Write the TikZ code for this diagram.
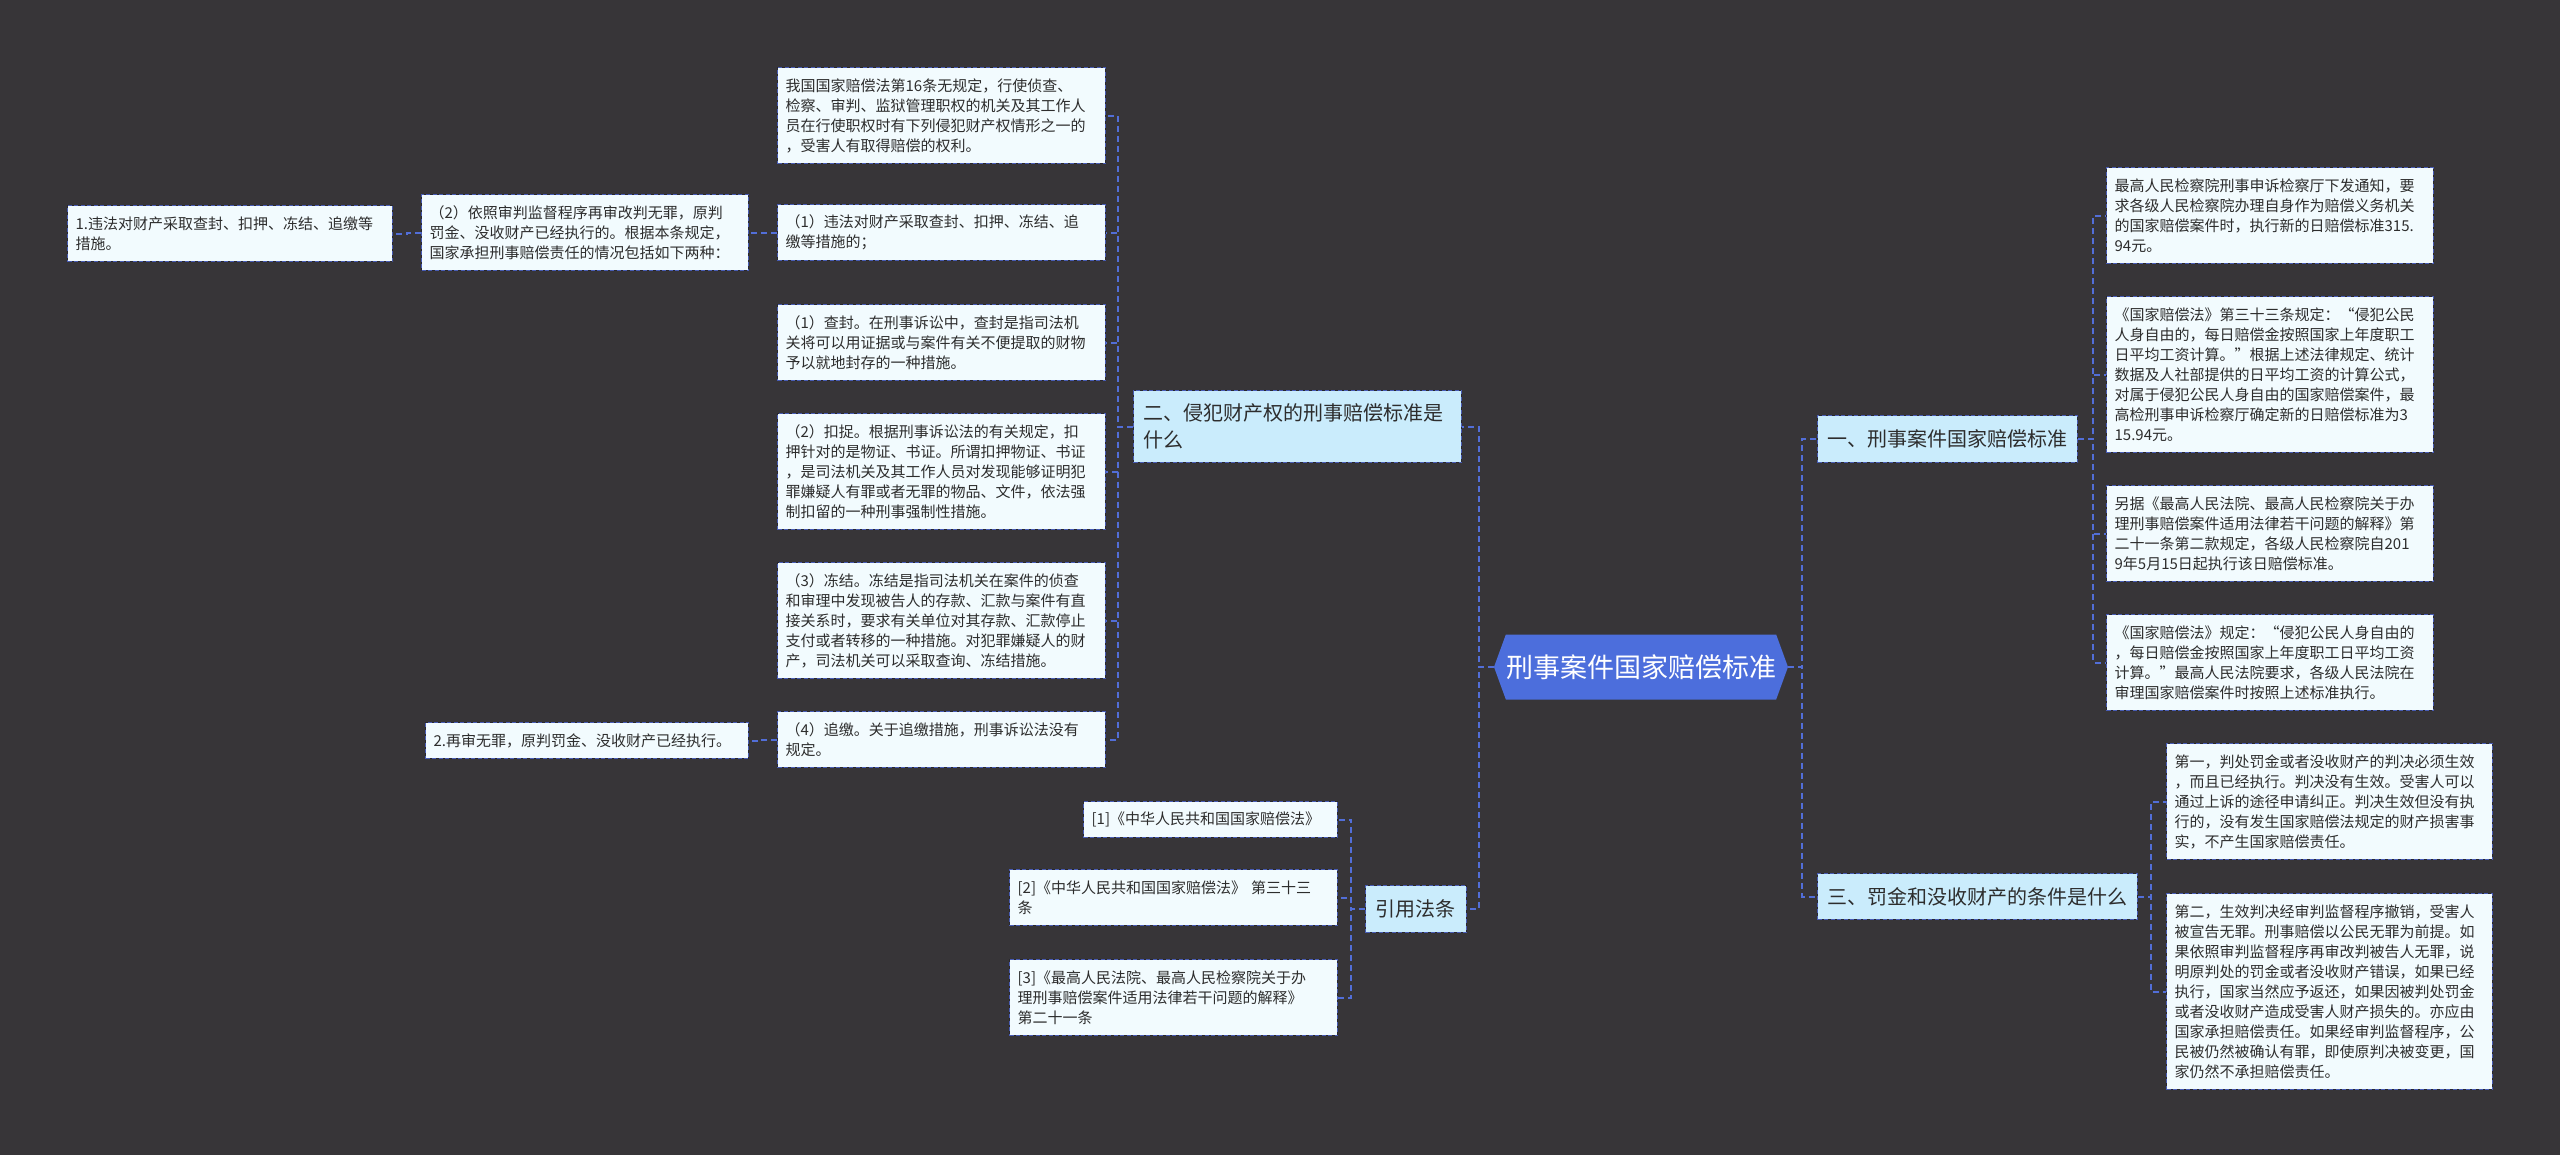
\documentclass[tikz,border=0pt]{standalone}
\usepackage{fontspec}
\setmainfont{Noto Sans CJK SC}
\usetikzlibrary{shapes.symbols}
\definecolor{bg}{RGB}{55,53,56}
\definecolor{leaffill}{RGB}{242,251,254}
\definecolor{branchfill}{RGB}{202,236,252}
\definecolor{rootfill}{RGB}{76,110,220}
\definecolor{conncol}{RGB}{82,110,215}
\definecolor{bordercol}{RGB}{72,92,180}
\definecolor{gapcol}{RGB}{40,40,46}
\definecolor{txt}{RGB}{45,45,45}
\tikzset{
  boxbase/.style={anchor=north west, draw=gapcol, line width=1.3pt,
    postaction={draw=bordercol, line width=1.3pt, dash pattern=on 4pt off 2.5pt},
    inner ysep=0pt, align=left, text=txt},
  leaf/.style={boxbase, fill=leaffill, inner xsep=8pt, font=\fontsize{15}{20}\selectfont},
  branch/.style={boxbase, fill=branchfill, inner xsep=10pt, font=\fontsize{20}{27}\selectfont},
  rootnode/.style={shape=signal, signal to=west and east, signal pointer angle=140,
    fill=rootfill, text=white, font=\fontsize{27}{32}\selectfont,
    minimum width=294pt, minimum height=65pt, inner sep=0pt},
  conn/.style={draw=conncol, line width=2pt, dash pattern=on 6pt off 4pt},
}
\begin{document}
\begin{tikzpicture}[x=1pt,y=-1pt]
\path[fill=bg] (0,0) rectangle (2560,1155);

% root
\node[rootnode] (root) at (1641,667) {刑事案件国家赔偿标准};

% branches
\node[branch, text width=308pt, minimum height=72pt] (b2) at (1133,390) {二、侵犯财产权的刑事赔偿标准是\\什么};
\node[branch, text width=81pt, minimum height=47pt] (cite) at (1365,885) {引用法条};
\node[branch, text width=240pt, minimum height=47pt] (b1) at (1817,415) {一、刑事案件国家赔偿标准};
\node[branch, text width=300pt, minimum height=46pt] (b3) at (1817,873) {三、罚金和没收财产的条件是什么};

% children of b2
\node[leaf, text width=312pt, minimum height=96pt] (A) at (777,67) {我国国家赔偿法第16条无规定，行使侦查、\\检察、审判、监狱管理职权的机关及其工作人\\员在行使职权时有下列侵犯财产权情形之一的\\，受害人有取得赔偿的权利。};
\node[leaf, text width=312pt, minimum height=56pt] (B) at (777,204) {（1）违法对财产采取查封、扣押、冻结、追\\缴等措施的；};
\node[leaf, text width=312pt, minimum height=76pt] (C) at (777,304) {（1）查封。在刑事诉讼中，查封是指司法机\\关将可以用证据或与案件有关不便提取的财物\\予以就地封存的一种措施。};
\node[leaf, text width=312pt, minimum height=116pt] (D) at (777,413) {（2）扣捉。根据刑事诉讼法的有关规定，扣\\押针对的是物证、书证。所谓扣押物证、书证\\，是司法机关及其工作人员对发现能够证明犯\\罪嫌疑人有罪或者无罪的物品、文件，依法强\\制扣留的一种刑事强制性措施。};
\node[leaf, text width=312pt, minimum height=116pt] (E) at (777,562) {（3）冻结。冻结是指司法机关在案件的侦查\\和审理中发现被告人的存款、汇款与案件有直\\接关系时，要求有关单位对其存款、汇款停止\\支付或者转移的一种措施。对犯罪嫌疑人的财\\产，司法机关可以采取查询、冻结措施。};
\node[leaf, text width=312pt, minimum height=56pt] (F) at (777,711) {（4）追缴。关于追缴措施，刑事诉讼法没有\\规定。};

% further left
\node[leaf, text width=311pt, minimum height=76pt] (p2) at (421,194) {（2）依照审判监督程序再审改判无罪，原判\\罚金、没收财产已经执行的。根据本条规定，\\国家承担刑事赔偿责任的情况包括如下两种：};
\node[leaf, text width=309pt, minimum height=56pt] (one) at (67,205) {1.违法对财产采取查封、扣押、冻结、追缴等\\措施。};
\node[leaf, text width=307pt, minimum height=36pt] (two) at (425,722) {2.再审无罪，原判罚金、没收财产已经执行。};

% references
\node[leaf, text width=238pt, minimum height=36pt] (ref1) at (1083,801) {[1]《中华人民共和国国家赔偿法》};
\node[leaf, text width=312pt, minimum height=56pt] (ref2) at (1009,869) {[2]《中华人民共和国国家赔偿法》 第三十三\\条};
\node[leaf, text width=312pt, minimum height=76pt] (ref3) at (1009,959) {[3]《最高人民法院、最高人民检察院关于办\\理刑事赔偿案件适用法律若干问题的解释》\\第二十一条};

% children of b1
\node[leaf, text width=311pt, minimum height=96pt] (R1) at (2106,167) {最高人民检察院刑事申诉检察厅下发通知，要\\求各级人民检察院办理自身作为赔偿义务机关\\的国家赔偿案件时，执行新的日赔偿标准315.\\94元。};
\node[leaf, text width=311pt, minimum height=156pt] (R2) at (2106,296) {《国家赔偿法》第三十三条规定：“侵犯公民\\人身自由的，每日赔偿金按照国家上年度职工\\日平均工资计算。”根据上述法律规定、统计\\数据及人社部提供的日平均工资的计算公式，\\对属于侵犯公民人身自由的国家赔偿案件，最\\高检刑事申诉检察厅确定新的日赔偿标准为3\\15.94元。};
\node[leaf, text width=311pt, minimum height=96pt] (R3) at (2106,485) {另据《最高人民法院、最高人民检察院关于办\\理刑事赔偿案件适用法律若干问题的解释》第\\二十一条第二款规定，各级人民检察院自201\\9年5月15日起执行该日赔偿标准。};
\node[leaf, text width=311pt, minimum height=96pt] (R4) at (2106,614) {《国家赔偿法》规定：“侵犯公民人身自由的\\，每日赔偿金按照国家上年度职工日平均工资\\计算。”最高人民法院要求，各级人民法院在\\审理国家赔偿案件时按照上述标准执行。};

% children of b3
\node[leaf, text width=310pt, minimum height=116pt] (T1) at (2166,743) {第一，判处罚金或者没收财产的判决必须生效\\，而且已经执行。判决没有生效。受害人可以\\通过上诉的途径申请纠正。判决生效但没有执\\行的，没有发生国家赔偿法规定的财产损害事\\实，不产生国家赔偿责任。};
\node[leaf, text width=310pt, minimum height=196pt] (T2) at (2166,893) {第二，生效判决经审判监督程序撤销，受害人\\被宣告无罪。刑事赔偿以公民无罪为前提。如\\果依照审判监督程序再审改判被告人无罪，说\\明原判处的罚金或者没收财产错误，如果已经\\执行，国家当然应予返还，如果因被判处罚金\\或者没收财产造成受害人财产损失的。亦应由\\国家承担赔偿责任。如果经审判监督程序，公\\民被仍然被确认有罪，即使原判决被变更，国\\家仍然不承担赔偿责任。};

% connectors
\draw[conn] (root.west) -- ++(-15,0) |- (b2.east);
\draw[conn] (root.west) -- ++(-15,0) |- (cite.east);
\draw[conn] (root.east) -- ++(14,0) |- (b1.west);
\draw[conn] (root.east) -- ++(14,0) |- (b3.west);
\foreach \n in {A,B,C,D,E,F} \draw[conn] (b2.west) -- ++(-15,0) |- (\n.east);
\foreach \n in {ref1,ref2,ref3} \draw[conn] (cite.west) -- ++(-14,0) |- (\n.east);
\foreach \n in {R1,R2,R3,R4} \draw[conn] (b1.east) -- ++(15,0) |- (\n.west);
\foreach \n in {T1,T2} \draw[conn] (b3.east) -- ++(13,0) |- (\n.west);
\draw[conn] (B.west) -- ++(-15,0) |- (p2.east);
\draw[conn] (p2.west) -- ++(-14,0) |- (one.east);
\draw[conn] (F.west) -- ++(-15,0) |- (two.east);
\end{tikzpicture}
\end{document}
